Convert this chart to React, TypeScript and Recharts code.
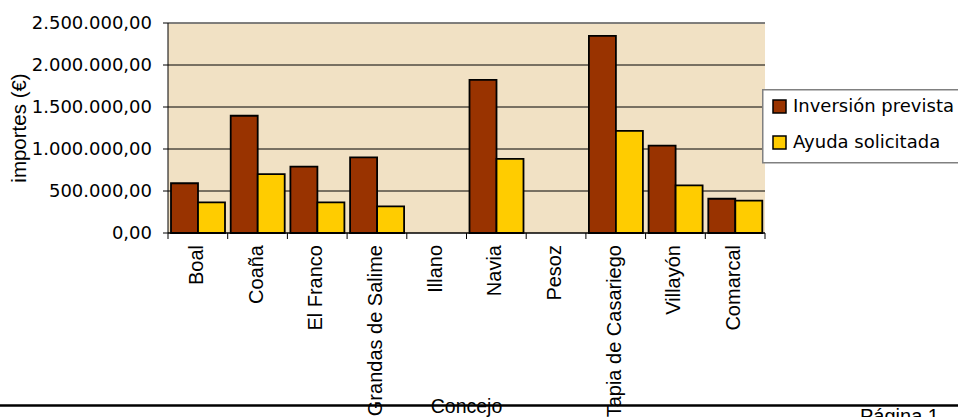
import React from 'react'
import {
  BarChart,
  Bar,
  XAxis,
  YAxis,
  CartesianGrid,
  Legend,
  ReferenceLine
} from 'recharts'

const concejos = [
  'Boal',
  'Coaña',
  'El Franco',
  'Grandas de Salime',
  'Illano',
  'Navia',
  'Pesoz',
  'Tapia de Casariego',
  'Villayón',
  'Comarcal'
]
const inversionPrevista = [592000, 1396000, 790000, 901000, 0, 1823000, 0, 2347000, 1039000, 408000]
const ayudaSolicitada = [365000, 702000, 365000, 318000, 0, 883000, 0, 1216000, 568000, 385000]
const yTicks = [0, 500000, 1000000, 1500000, 2000000, 2500000]
const seriesOrder = ['inversion', 'ayuda']

const data = concejos.map((name, i) => ({
  name,
  inversion: inversionPrevista[i],
  ayuda: ayudaSolicitada[i]
}))

const WIDE = 'DejaVu Sans, sans-serif'
const ARIAL = 'Liberation Sans, Arial, sans-serif'

const formatImporte = (value: number) =>
  Math.round(value).toString().replace(/\B(?=(\d{3})+(?!\d))/g, '.') + ',00'

// category label plus the tick marks that sit on the band edges
const ConcejoTick = ({ x, y, payload, width, visibleTicksCount, index }: any) => {
  const band = width / visibleTicksCount
  const left = x - band / 2
  return (
    <g>
      <line x1={left} x2={left} y1={y - 6} y2={y} stroke="#000" strokeWidth={1} />
      {index === visibleTicksCount - 1 && (
        <line x1={left + band} x2={left + band} y1={y - 6} y2={y} stroke="#000" strokeWidth={1} />
      )}
      <text
        transform={`translate(${x + 5},${y + 6}) rotate(-90)`}
        textAnchor="end"
        fontFamily={ARIAL}
        fontSize={20}
        fill="#000"
      >
        {payload.value}
      </text>
    </g>
  )
}

const YTitle = ({ viewBox }: any) => {
  const cy = viewBox.y + viewBox.height / 2
  return (
    <text
      transform={`translate(26,${cy}) rotate(-90)`}
      textAnchor="middle"
      fontFamily={ARIAL}
      fontSize={20.5}
      fill="#000"
    >
      importes (€)
    </text>
  )
}

const LegendBox = ({ payload }: any) => (
  <svg width={196} height={76} style={{ display: 'block' }}>
    <rect x={0.75} y={0.75} width={210} height={73} fill="#fff" stroke="#808080" strokeWidth={1.5} />
    {(payload || []).map((item: any, i: number) => (
      <g key={item.value}>
        <rect x={11} y={11 + i * 36} width={13} height={13} fill={item.color} stroke="#000" strokeWidth={1.5} />
        <text x={31} y={23 + i * 36} fontFamily={WIDE} fontSize={18} fill="#000">
          {item.value}
        </text>
      </g>
    ))}
  </svg>
)

export default function App() {
  return (
    <div style={{ position: 'absolute', left: 0, top: 0, width: 958, height: 417, background: '#fff' }}>
      <BarChart
        width={958}
        height={417}
        data={data}
        margin={{ top: 23, right: 193, bottom: 0, left: 0 }}
        barCategoryGap={3}
        barGap={0}
      >
        <CartesianGrid vertical={false} stroke="#000" strokeWidth={1} fill="#F1E1C4" />
        <XAxis
          dataKey="name"
          interval={0}
          height={184}
          stroke="#000"
          tickLine={false}
          tickMargin={0}
          tick={<ConcejoTick />}
          label={{
            value: 'Concejo',
            position: 'insideBottom',
            offset: 4,
            fill: '#000',
            fontSize: 19.5,
            fontFamily: ARIAL
          }}
        />
        <YAxis
          width={168}
          domain={[0, 2500000]}
          ticks={yTicks}
          tickFormatter={formatImporte}
          tickSize={5}
          tickMargin={11}
          stroke="#000"
          tick={{ fill: '#000', fontSize: 18, fontFamily: WIDE }}
          label={{ content: <YTitle /> }}
        />
        <YAxis
          yAxisId="edge"
          orientation="right"
          width={0}
          tick={false}
          tickLine={false}
          stroke="#808080"
          strokeWidth={1.5}
        />
        <ReferenceLine y={2500000} stroke="#808080" strokeWidth={1.5} />
        <Legend
          layout="vertical"
          align="center"
          verticalAlign="middle"
          itemSorter={(item: any) => seriesOrder.indexOf(item.dataKey)}
          content={<LegendBox />}
          wrapperStyle={{ left: 762, top: 89, width: 196, height: 76 }}
        />
        <Bar
          dataKey="inversion"
          name="Inversión prevista"
          fill="#993300"
          stroke="#000"
          strokeWidth={1.8}
          isAnimationActive={false}
        />
        <Bar
          dataKey="ayuda"
          name="Ayuda solicitada"
          fill="#FFCC00"
          stroke="#000"
          strokeWidth={1.8}
          isAnimationActive={false}
        />
      </BarChart>
      <svg
        width={958}
        height={417}
        style={{ position: 'absolute', left: 0, top: 0, pointerEvents: 'none' }}
      >
        <line x1={0} x2={958} y1={405.5} y2={405.5} stroke="#000" strokeWidth={2.5} />
        <text x={860} y={423} fontFamily={ARIAL} fontSize={20} fill="#000">
          Página 1
        </text>
      </svg>
    </div>
  )
}
